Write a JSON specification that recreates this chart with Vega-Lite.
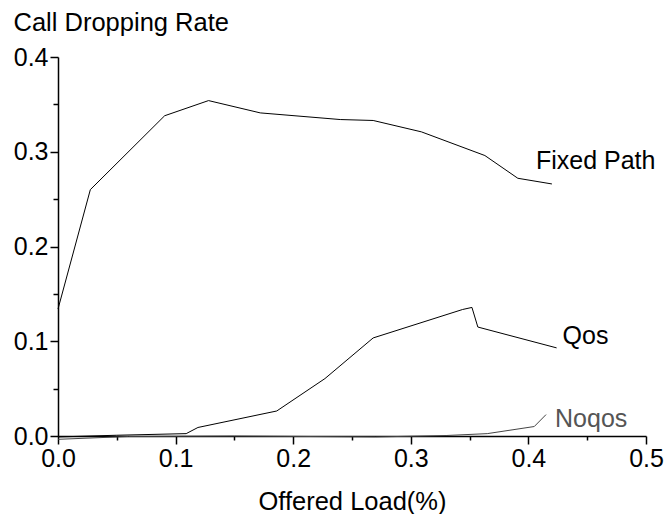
{
  "$schema": "https://vega.github.io/schema/vega-lite/v6.json",
  "width": 588,
  "height": 379,
  "autosize": {"type": "none"},
  "padding": {"left": 58, "top": 57, "right": 21, "bottom": 78},
  "background": "white",
  "config": {
    "view": {"stroke": null},
    "font": "Liberation Sans",
    "axis": {
      "domainColor": "black",
      "domainWidth": 1.5,
      "tickColor": "black",
      "tickWidth": 1.5,
      "grid": false,
      "labelColor": "black",
      "labelFont": "Liberation Sans",
      "labelFontSize": 25,
      "titleFont": "Liberation Sans",
      "titleFontSize": 25.5,
      "titleFontWeight": "normal",
      "titleColor": "black"
    }
  },
  "data": {
    "values": [
      {"series": "Fixed Path", "load": 0.0, "rate": 0.134},
      {"series": "Fixed Path", "load": 0.0275, "rate": 0.26},
      {"series": "Fixed Path", "load": 0.0907, "rate": 0.338},
      {"series": "Fixed Path", "load": 0.128, "rate": 0.354},
      {"series": "Fixed Path", "load": 0.172, "rate": 0.341},
      {"series": "Fixed Path", "load": 0.24, "rate": 0.334},
      {"series": "Fixed Path", "load": 0.268, "rate": 0.333},
      {"series": "Fixed Path", "load": 0.309, "rate": 0.321},
      {"series": "Fixed Path", "load": 0.363, "rate": 0.296},
      {"series": "Fixed Path", "load": 0.391, "rate": 0.272},
      {"series": "Fixed Path", "load": 0.42, "rate": 0.266},
      {"series": "Qos", "load": 0.0, "rate": -0.001},
      {"series": "Qos", "load": 0.05, "rate": 0.0008},
      {"series": "Qos", "load": 0.109, "rate": 0.0025},
      {"series": "Qos", "load": 0.119, "rate": 0.009},
      {"series": "Qos", "load": 0.186, "rate": 0.0264},
      {"series": "Qos", "load": 0.227, "rate": 0.0606},
      {"series": "Qos", "load": 0.268, "rate": 0.1035},
      {"series": "Qos", "load": 0.344, "rate": 0.1335},
      {"series": "Qos", "load": 0.352, "rate": 0.1357},
      {"series": "Qos", "load": 0.357, "rate": 0.115},
      {"series": "Qos", "load": 0.424, "rate": 0.093},
      {"series": "Noqos", "load": 0.0, "rate": -0.0035},
      {"series": "Noqos", "load": 0.06, "rate": -0.0005},
      {"series": "Noqos", "load": 0.15, "rate": 0.0},
      {"series": "Noqos", "load": 0.27, "rate": -0.001},
      {"series": "Noqos", "load": 0.33, "rate": 0.0005},
      {"series": "Noqos", "load": 0.365, "rate": 0.0025},
      {"series": "Noqos", "load": 0.405, "rate": 0.01},
      {"series": "Noqos", "load": 0.415, "rate": 0.0226}
    ]
  },
  "encoding": {
    "x": {
      "field": "load",
      "type": "quantitative",
      "scale": {"domain": [0, 0.5], "nice": false, "zero": false},
      "axis": {
        "title": "Offered Load(%)",
        "values": [0, 0.05, 0.1, 0.15, 0.2, 0.25, 0.3, 0.35, 0.4, 0.45, 0.5],
        "labelExpr": "round(datum.value * 100) % 10 == 0 ? format(datum.value, '.1f') : ''",
        "tickSize": {"condition": {"test": "round(datum.value * 100) % 10 != 0", "value": 4}, "value": 8},
        "labelPadding": 2,
        "titlePadding": 18,
        "labelFlush": false,
        "labelOverlap": false
      }
    },
    "y": {
      "field": "rate",
      "type": "quantitative",
      "scale": {"domain": [0, 0.4], "nice": false, "zero": false},
      "axis": {
        "title": "Call Dropping Rate",
        "titleAngle": 0,
        "titleAlign": "left",
        "titleBaseline": "alphabetic",
        "titleX": -45,
        "titleY": -27,
        "values": [0, 0.05, 0.1, 0.15, 0.2, 0.25, 0.3, 0.35, 0.4],
        "labelExpr": "round(datum.value * 100) % 10 == 0 ? format(datum.value, '.1f') : ''",
        "tickSize": {"condition": {"test": "round(datum.value * 100) % 10 != 0", "value": 5}, "value": 8},
        "labelPadding": 2,
        "labelFlush": false,
        "labelOverlap": false
      }
    }
  },
  "layer": [
    {
      "mark": {"type": "line", "strokeWidth": 1, "clip": false},
      "encoding": {
        "detail": {"field": "series"},
        "color": {
          "field": "series",
          "type": "nominal",
          "scale": {"domain": ["Fixed Path", "Qos", "Noqos"], "range": ["#000000", "#000000", "#444444"]},
          "legend": null
        }
      }
    },
    {
      "transform": [
        {"joinaggregate": [{"op": "max", "field": "load", "as": "lastLoad"}], "groupby": ["series"]},
        {"filter": "datum.load == datum.lastLoad && datum.series == 'Fixed Path'"}
      ],
      "mark": {"type": "text", "align": "left", "baseline": "alphabetic", "dx": -16, "dy": -15, "fontSize": 25, "color": "black"},
      "encoding": {"text": {"field": "series"}}
    },
    {
      "transform": [
        {"joinaggregate": [{"op": "max", "field": "load", "as": "lastLoad"}], "groupby": ["series"]},
        {"filter": "datum.load == datum.lastLoad && datum.series == 'Qos'"}
      ],
      "mark": {"type": "text", "align": "left", "baseline": "alphabetic", "dx": 6, "dy": -4, "fontSize": 25, "color": "black"},
      "encoding": {"text": {"field": "series"}}
    },
    {
      "transform": [
        {"joinaggregate": [{"op": "max", "field": "load", "as": "lastLoad"}], "groupby": ["series"]},
        {"filter": "datum.load == datum.lastLoad && datum.series == 'Noqos'"}
      ],
      "mark": {"type": "text", "align": "left", "baseline": "alphabetic", "dx": 9, "dy": 12, "fontSize": 25, "color": "#555555"},
      "encoding": {"text": {"field": "series"}}
    }
  ]
}
